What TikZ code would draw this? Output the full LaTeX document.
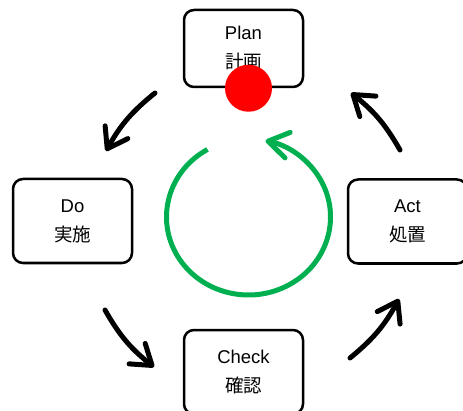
\documentclass[tikz,border=0pt]{standalone}
\usepackage{fontspec}
\setmainfont{Liberation Sans}
\newfontfamily\jp{Noto Sans CJK JP}
\usepackage{tikz}
\usetikzlibrary{positioning}
\usetikzlibrary{arrows.meta}
\definecolor{pdcagreen}{RGB}{0,176,80}
\tikzstyle{pdca}=[draw=black,line width=2.5pt,rounded corners=10pt,minimum width=119pt,minimum height=84pt,align=center,font=\fontsize{18.5}{29}\selectfont]
\tikzstyle{turn}=[line width=5pt,line cap=round,-{Straight Barb[length=19pt,width=26pt,round]},bend right=11]

\begin{document}
\begin{tikzpicture}[x=1pt,y=1pt]
				
				\useasboundingbox (0,0) rectangle (463,410);
				\clip (0,0) rectangle (463,410);
				
				\node [pdca,minimum height=77pt] (plan) at (243.5,361.5) {Plan\\{\jp 計画}};
				\node [pdca] (do) at (72.5,189) {Do\\{\jp 実施}};
				\node [pdca] (check) at (243.5,38) {Check\\{\jp 確認}};
				\node [pdca] (act) at (407.5,188.5) {Act\\{\jp 処置}};
				
				\fill[red] (plan.south) ++(5,0) circle (23.5);
				
				% arrow ends
				\coordinate (p2d-s) at (155,317);
				\coordinate (p2d-e) at (106,259);
				\coordinate (d2c-s) at (105,100);
				\coordinate (d2c-e) at (154,43);
				\coordinate (c2a-s) at (350,52);
				\coordinate (c2a-e) at (399,111);
				\coordinate (a2p-s) at (400,260);
				\coordinate (a2p-e) at (351,317);
				
				\draw[turn] (p2d-s) to (p2d-e);
				\draw[turn] (d2c-s) to (d2c-e);
				\draw[turn] (c2a-s) to (c2a-e);
				\draw[turn] (a2p-s) to (a2p-e);
				
				% the cycle
				\coordinate (ring) at (248.5,193);
				\draw[pdcagreen,line width=5pt,-{Straight Barb[length=20pt,width=26pt,round]}]
					(ring) ++(120:82 and 78) arc[start angle=120,end angle=438,x radius=82,y radius=78];
				
				\end{tikzpicture}
\end{document}
